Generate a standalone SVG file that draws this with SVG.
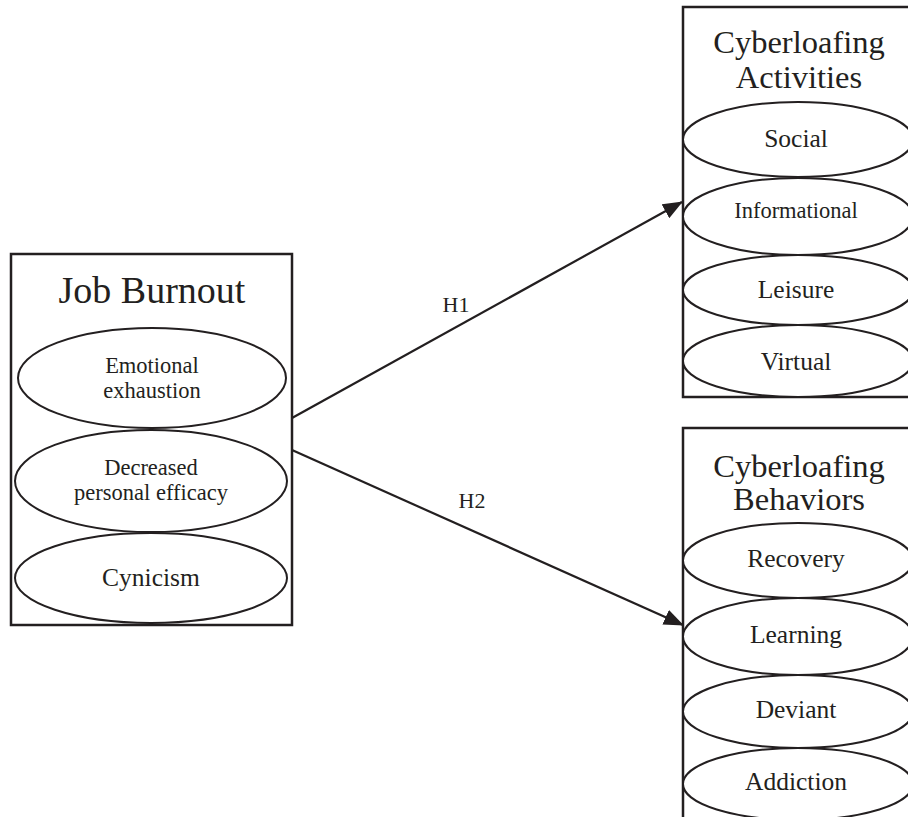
<svg xmlns="http://www.w3.org/2000/svg" width="908" height="817" viewBox="0 0 908 817">
<style>
.box{fill:#fff;stroke:#231f20;stroke-width:2.5}
.ell{fill:#fff;stroke:#231f20;stroke-width:2}
text{font-family:"Liberation Serif","Times New Roman",serif;fill:#231f20;text-anchor:middle}
.t1{font-size:38px}
.t2{font-size:32.5px}
.e1{font-size:22.5px}
.e2{font-size:25.5px}
.lab{font-size:22px}
.con{stroke:#231f20;stroke-width:2.2;fill:none}
</style>
<defs>
<marker id="ah" markerUnits="userSpaceOnUse" markerWidth="20" markerHeight="16" refX="19" refY="8" orient="auto">
<path d="M0,0 L20,8 L0,16 Z" fill="#231f20"/>
</marker>
</defs>
<rect width="908" height="817" fill="#fff"/>
<g id="job-burnout">
<rect class="box" x="11" y="254" width="281" height="371"/>
<text class="t1" x="152" y="303">Job Burnout</text>
<ellipse class="ell" cx="152" cy="378" rx="134" ry="50"/>
<text class="e1" x="152" y="373">Emotional</text>
<text class="e1" x="152" y="398">exhaustion</text>
<ellipse class="ell" cx="151" cy="481" rx="136" ry="51"/>
<text class="e1" x="151" y="475">Decreased</text>
<text class="e1" x="151" y="500">personal efficacy</text>
<ellipse class="ell" cx="151" cy="578" rx="136" ry="45"/>
<text class="e2" x="151" y="586">Cynicism</text>
</g>
<g id="cyberloafing-activities">
<rect class="box" x="683" y="7" width="240" height="390"/>
<text class="t2" x="799" y="53">Cyberloafing</text>
<text class="t2" x="799" y="88">Activities</text>
<ellipse class="ell" cx="798" cy="139.5" rx="115" ry="37.5"/>
<text class="e2" x="796" y="147">Social</text>
<ellipse class="ell" cx="798" cy="216.5" rx="115" ry="38.5"/>
<text class="e1" x="796" y="218">Informational</text>
<ellipse class="ell" cx="798" cy="290" rx="115" ry="35"/>
<text class="e2" x="796" y="298">Leisure</text>
<ellipse class="ell" cx="798" cy="361" rx="115" ry="36"/>
<text class="e2" x="796" y="370">Virtual</text>
</g>
<g id="cyberloafing-behaviors">
<rect class="box" x="683" y="428" width="240" height="410"/>
<text class="t2" x="799" y="477">Cyberloafing</text>
<text class="t2" x="799" y="510">Behaviors</text>
<ellipse class="ell" cx="798" cy="560.5" rx="115" ry="37.5"/>
<text class="e2" x="796" y="567">Recovery</text>
<ellipse class="ell" cx="798" cy="636.5" rx="115" ry="38.5"/>
<text class="e2" x="796" y="643">Learning</text>
<ellipse class="ell" cx="798" cy="711.5" rx="115" ry="36.5"/>
<text class="e2" x="796" y="718">Deviant</text>
<ellipse class="ell" cx="798" cy="784" rx="115" ry="36"/>
<text class="e2" x="796" y="790">Addiction</text>
</g>
<g id="connectors">
<line class="con" x1="292" y1="418" x2="682" y2="202" marker-end="url(#ah)"/>
<line class="con" x1="292" y1="450" x2="683" y2="625" marker-end="url(#ah)"/>
<text class="lab" x="456" y="312">H1</text>
<text class="lab" x="472" y="508">H2</text>
</g>
</svg>
